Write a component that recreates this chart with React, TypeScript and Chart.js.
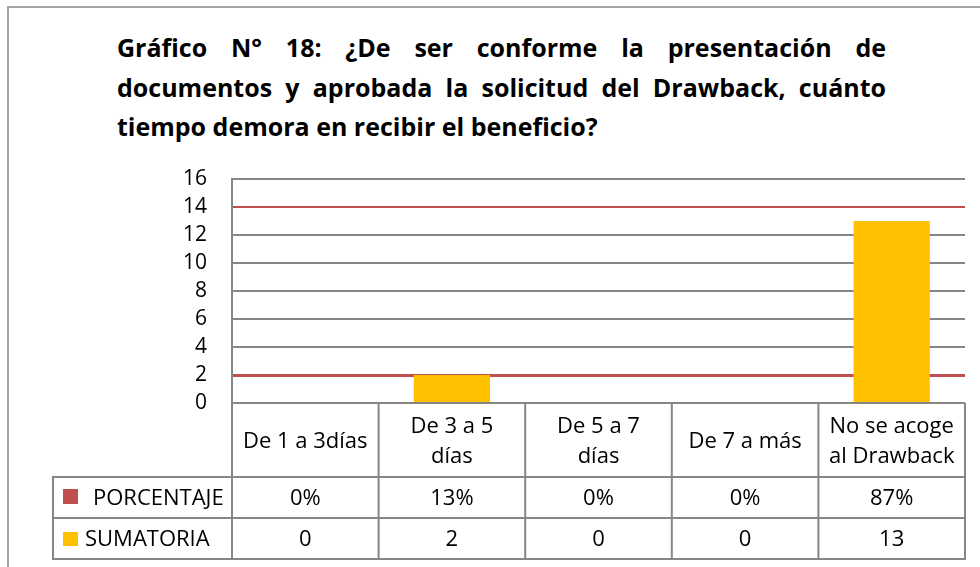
import React, { useEffect, useRef } from "react";
import { Chart, registerables } from "chart.js";

Chart.register(...registerables);

// ---- Data ----
const titleLines: string[] = [
  "Gráfico N° 18: ¿De ser conforme la presentación de",
  "documentos y aprobada la solicitud del Drawback, cuánto",
  "tiempo demora en recibir el beneficio?",
];
const categories: string[][] = [
  ["De 1 a 3días"],
  ["De 3 a 5", "días"],
  ["De 5 a 7", "días"],
  ["De 7 a más"],
  ["No se acoge", "al Drawback"],
];
const sumatoria: number[] = [0, 2, 0, 0, 13];
const porcentaje: number[] = [0, 13, 0, 0, 87];
const seriesNames: string[] = ["PORCENTAJE", "SUMATORIA"];
const yMin = 0;
const yMax = 16;
const yStep = 2;
const redGridValues: number[] = [2, 14];

// ---- Styles ----
const GRID = "#868686";
const RED = "#C0504D";
const YELLOW = "#FFC000";
const FONT = "'Open Sans', 'Noto Sans', sans-serif";

const tablePlugin = {
  id: "dataTable",
  afterDraw(chart: any) {
    const { ctx, chartArea } = chart;
    const xs = chart.scales.x;
    const left = chartArea.left;
    const right = chartArea.right;
    const top = chartArea.bottom;
    const headerH = 74;
    const rowH = 41;
    const legendLeft = 53;
    const y1 = top + headerH;
    const y2 = y1 + rowH;
    const y3 = y2 + rowH;
    const n = categories.length;
    const colW = (right - left) / n;

    ctx.save();
    ctx.strokeStyle = GRID;
    ctx.lineWidth = 2;
    const line = (ax: number, ay: number, bx: number, by: number) => {
      ctx.beginPath();
      ctx.moveTo(ax, ay);
      ctx.lineTo(bx, by);
      ctx.stroke();
    };
    for (let i = 0; i <= n; i++) {
      const xx = left + i * colW;
      line(xx, top, xx, y3 + 1);
    }
    [y1, y2, y3].forEach((yy) => line(legendLeft - 1, yy, right + 1, yy));
    line(legendLeft, y1, legendLeft, y3 + 1);

    ctx.fillStyle = "#000";
    ctx.font = `22px ${FONT}`;
    ctx.textAlign = "center";
    ctx.textBaseline = "middle";
    const lh = 30;
    categories.forEach((lines, i) => {
      const cx = xs.getPixelForValue(i);
      const sy = top + headerH / 2 + 2 - ((lines.length - 1) * lh) / 2;
      lines.forEach((l, j) => ctx.fillText(l, cx, sy + j * lh));
    });
    porcentaje.forEach((v, i) => {
      ctx.fillText(v + "%", xs.getPixelForValue(i), y1 + rowH / 2 + 1);
    });
    sumatoria.forEach((v, i) => {
      ctx.fillText(String(v), xs.getPixelForValue(i), y2 + rowH / 2 + 1);
    });

    // legend keys
    ctx.fillStyle = RED;
    ctx.fillRect(legendLeft + 10, y1 + 12, 15, 15);
    ctx.fillStyle = YELLOW;
    ctx.fillRect(legendLeft + 10, y2 + 14, 15, 14);
    ctx.fillStyle = "#000";
    ctx.textAlign = "left";
    ctx.fillText(seriesNames[0], legendLeft + 40, y1 + rowH / 2 + 1);
    ctx.fillText(seriesNames[1], legendLeft + 32, y2 + rowH / 2 + 1);
    ctx.restore();
  },
};

export default function App() {
  const ref = useRef<HTMLCanvasElement | null>(null);

  useEffect(() => {
    if (!ref.current) return;
    const chart = new Chart(ref.current, {
      type: "bar",
      data: {
        labels: categories,
        datasets: [
          {
            label: seriesNames[1],
            data: sumatoria,
            backgroundColor: YELLOW,
            borderWidth: 0,
            barPercentage: 0.52,
            categoryPercentage: 1,
          },
        ],
      },
      options: {
        animation: false,
        responsive: true,
        maintainAspectRatio: false,
        layout: { padding: { left: 0, top: 179, right: 15, bottom: 164 } },
        plugins: {
          legend: { display: false },
          title: { display: false },
          tooltip: { enabled: false },
        },
        scales: {
          x: { display: false },
          y: {
            min: yMin,
            max: yMax,
            afterFit: (s: any) => {
              s.width = 232;
            },
            ticks: {
              stepSize: yStep,
              autoSkip: false,
              color: "#000",
              font: { family: FONT, size: 21 },
              padding: 25,
            },
            grid: {
              drawTicks: false,
              color: (c: any) =>
                c.tick && redGridValues.includes(c.tick.value) ? RED : GRID,
              lineWidth: (c: any) => (c.tick && c.tick.value === redGridValues[0] ? 3 : 2),
            },
            border: { display: true, color: GRID, width: 2 },
          },
        },
      },
      plugins: [tablePlugin],
    });
    return () => chart.destroy();
  }, []);

  return (
    <div style={{ position: "absolute", left: 0, top: 0, width: 980, height: 567, overflow: "hidden", background: "#fff" }}>
      <div
        style={{
          position: "absolute",
          left: 7,
          top: 6,
          width: 2000,
          height: 2000,
          border: "2px solid #a6a6a6",
        }}
      />
      <div
        style={{
          position: "absolute",
          left: 117,
          top: 28,
          width: 769,
          fontFamily: FONT,
          fontWeight: 700,
          fontSize: 25,
          lineHeight: "39.5px",
          color: "#000",
        }}
      >
        {titleLines.map((t, i) => (
          <div
            key={i}
            style={{
              whiteSpace: "nowrap",
              textAlign: i < titleLines.length - 1 ? "justify" : "left",
              textAlignLast: i < titleLines.length - 1 ? "justify" : "left",
            }}
          >
            {t}
          </div>
        ))}
      </div>
      <div style={{ position: "absolute", left: 0, top: 0, width: 980, height: 567 }}>
        <canvas ref={ref} />
      </div>
    </div>
  );
}
